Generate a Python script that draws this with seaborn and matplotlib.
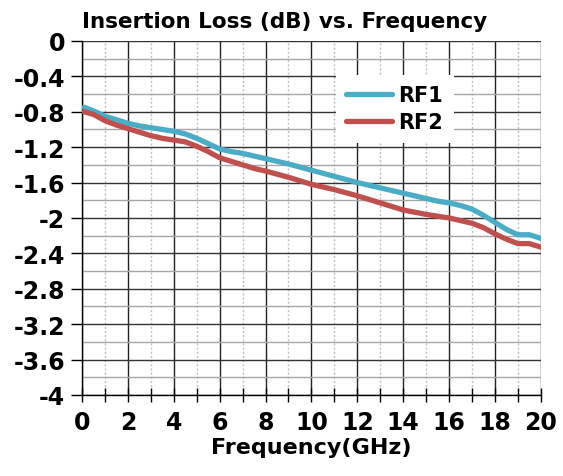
import matplotlib
matplotlib.use("Agg")
import matplotlib.pyplot as plt
import matplotlib.ticker as mticker
import seaborn as sns
import pandas as pd

freq = [0.1, 0.5, 1, 1.5, 2, 2.5, 3, 3.5, 4, 4.5, 5, 5.5, 6, 6.5, 7, 7.5, 8,
        9, 10, 11, 12, 13, 14, 15, 15.5, 16, 16.5, 17, 17.5, 18, 18.5, 19,
        19.5, 20]
rf1 = [-0.75, -0.79, -0.85, -0.89, -0.93, -0.96, -0.98, -1.00, -1.02, -1.05,
       -1.10, -1.16, -1.22, -1.25, -1.27, -1.30, -1.33, -1.39, -1.46, -1.53,
       -1.60, -1.66, -1.72, -1.78, -1.81, -1.83, -1.86, -1.90, -1.97, -2.05,
       -2.13, -2.19, -2.19, -2.23]
rf2 = [-0.80, -0.83, -0.90, -0.95, -0.99, -1.03, -1.07, -1.10, -1.12, -1.14,
       -1.19, -1.25, -1.32, -1.36, -1.40, -1.44, -1.47, -1.54, -1.62, -1.68,
       -1.75, -1.83, -1.91, -1.96, -1.98, -2.00, -2.03, -2.06, -2.11, -2.18,
       -2.24, -2.29, -2.29, -2.33]
x_ticks = [0, 2, 4, 6, 8, 10, 12, 14, 16, 18, 20]
y_ticks = [0, -0.4, -0.8, -1.2, -1.6, -2, -2.4, -2.8, -3.2, -3.6, -4]
y_labels = ["0", "-0.4", "-0.8", "-1.2", "-1.6", "-2", "-2.4", "-2.8",
            "-3.2", "-3.6", "-4"]


def main():
    sns.set_style("white")
    plt.rcParams["font.family"] = ["DejaVu Sans"]
    plt.rcParams["font.weight"] = "bold"
    plt.rcParams["text.color"] = "black"
    plt.rcParams["axes.labelcolor"] = "black"

    df = pd.DataFrame({"freq": freq * 2,
                       "loss": rf1 + rf2,
                       "port": ["RF1"] * len(freq) + ["RF2"] * len(freq)})

    fig = plt.figure(figsize=(5.63, 4.77), dpi=100)
    ax = fig.add_axes([0.1456, 0.170, 0.815, 0.742])
    sns.lineplot(data=df, x="freq", y="loss", hue="port",
                 palette={"RF1": "#4BACC6", "RF2": "#C0504D"},
                 linewidth=3.8, ax=ax, zorder=5)

    ax.set_xlim(0, 20)
    ax.set_ylim(-4, 0)
    ax.set_xticks(x_ticks)
    ax.set_yticks(y_ticks)
    ax.set_yticklabels(y_labels)
    ax.xaxis.set_minor_locator(mticker.MultipleLocator(1))
    ax.yaxis.set_minor_locator(mticker.MultipleLocator(0.2))

    ax.grid(which="major", axis="x", color="#222222", linewidth=1.0)
    ax.grid(which="major", axis="y", color="#333333", linewidth=1.0)
    ax.grid(which="minor", axis="y", color="#a6a6a6", linewidth=1.0)
    ax.grid(which="minor", axis="x", color="#c0c0c0", linewidth=1.0,
            linestyle=(0, (1.5, 1.5)))
    ax.set_axisbelow(True)

    for s in ax.spines.values():
        s.set_color("black")
        s.set_linewidth(1.0)
    ax.spines["top"].set_visible(False)
    ax.spines["right"].set_visible(False)

    ax.tick_params(axis="x", which="both", direction="inout", length=10,
                   width=1, colors="black", labelsize=17, pad=6,
                   bottom=True)
    ax.tick_params(axis="y", which="major", direction="out", length=8,
                   width=1, colors="black", labelsize=17, pad=4, left=True)
    ax.tick_params(axis="y", which="minor", length=0)

    ax.set_title("Insertion Loss (dB) vs. Frequency", fontsize=15.5,
                 fontweight="bold", loc="left", x=0.0, pad=10,
                 color="black")
    ax.set_xlabel("Frequency(GHz)", fontsize=16, fontweight="bold",
                  labelpad=2, color="black")
    ax.set_ylabel("")

    leg = ax.legend(loc="upper right", bbox_to_anchor=(0.81, 0.905),
                    frameon=True, fancybox=False, borderaxespad=0,
                    borderpad=0.5, handlelength=2.2, handletextpad=0.3,
                    labelspacing=0.35,
                    prop={"size": 15, "weight": "bold"}, title=None)
    leg.get_frame().set_facecolor("white")
    leg.get_frame().set_edgecolor("none")
    leg.get_frame().set_alpha(1)
    leg.set_zorder(10)

    fig.savefig("out.png", dpi=100)
    plt.close(fig)


if __name__ == "__main__":
    main()
